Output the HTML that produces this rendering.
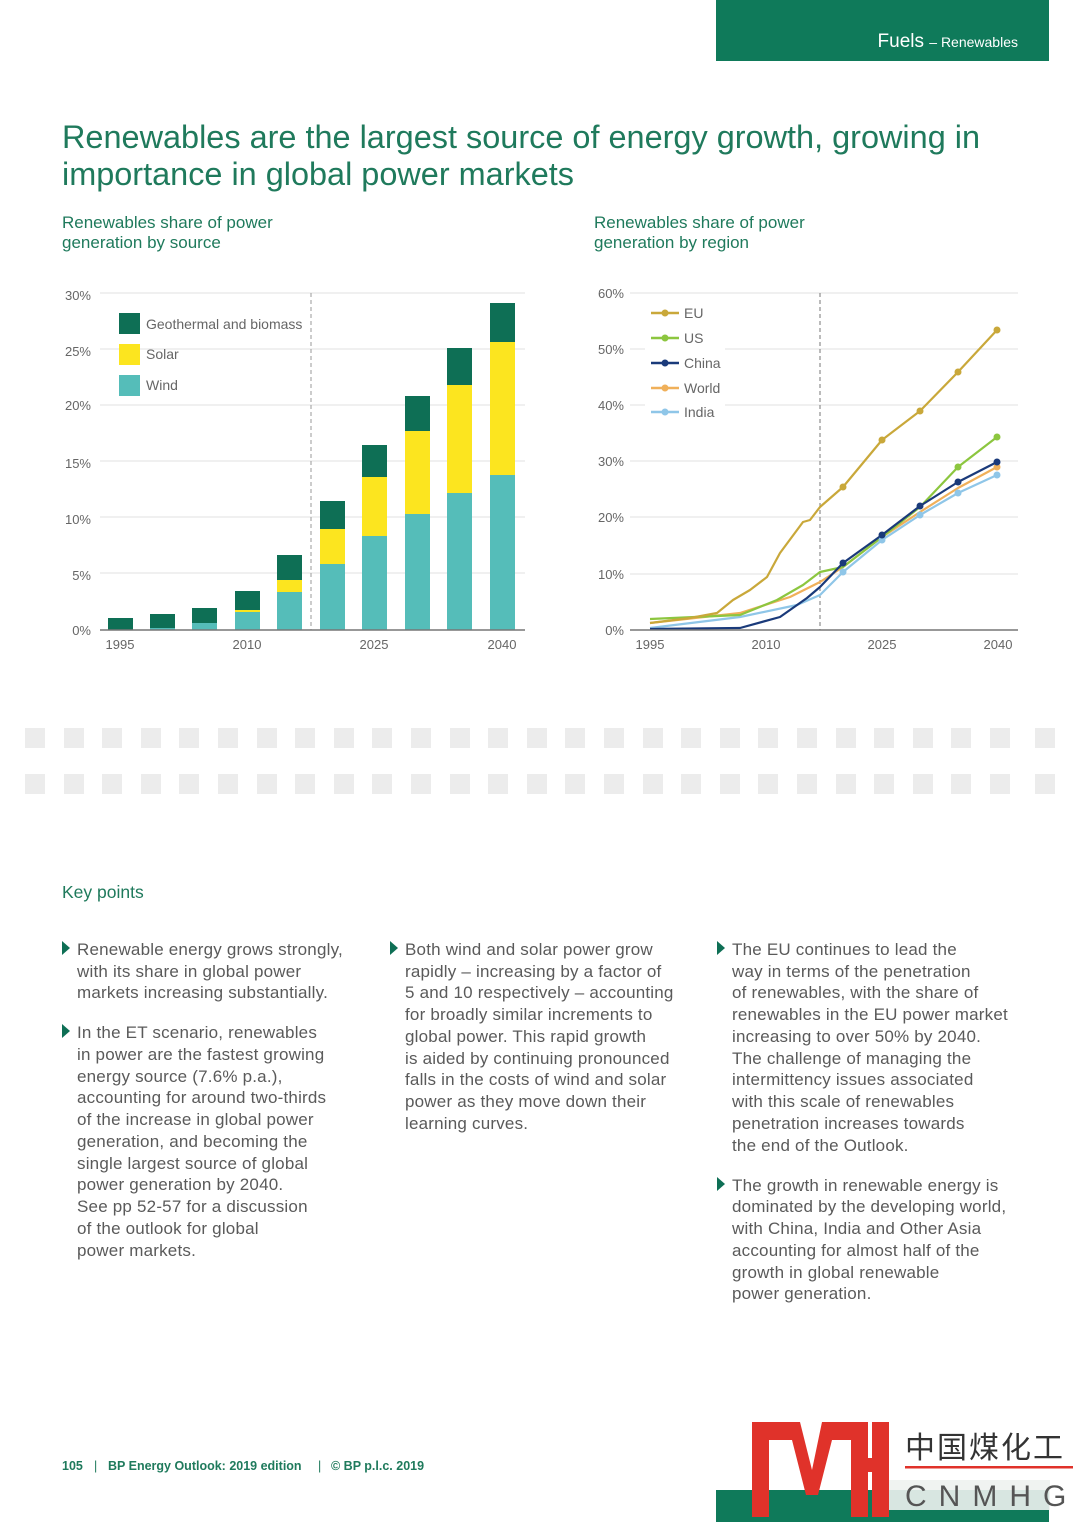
<!DOCTYPE html>
<html><head><meta charset="utf-8"><style>
html,body{margin:0;padding:0;background:#fff}
svg{display:block}
text{font-family:"Liberation Sans","Noto Sans CJK SC",sans-serif}
.b{font-size:17px;fill:#5a5a5a;letter-spacing:0.2px}
.t{font-size:13px;fill:#666}
</style></head><body>
<svg width="1080" height="1522" viewBox="0 0 1080 1522" xmlns="http://www.w3.org/2000/svg">
<rect x="716" y="0" width="333" height="61" fill="#0f7a5a"/>
<text x="1018" y="47" text-anchor="end" fill="#fff" font-size="19">Fuels <tspan font-size="14">– Renewables</tspan></text>

<text x="62" y="148" fill="#1f7a5c" font-size="32" textLength="918" lengthAdjust="spacingAndGlyphs">Renewables are the largest source of energy growth, growing in</text>
<text x="62" y="185" fill="#1f7a5c" font-size="32" textLength="512" lengthAdjust="spacingAndGlyphs">importance in global power markets</text>
<g fill="#1f7a5c" font-size="17">
<text x="62" y="228">Renewables share of power</text>
<text x="62" y="248">generation by source</text>
<text x="594" y="228">Renewables share of power</text>
<text x="594" y="248">generation by region</text>
</g>

<!-- left chart -->
<g stroke="#e2e2e2" stroke-width="1">
<line x1="100" y1="293" x2="525" y2="293"/><line x1="100" y1="349" x2="525" y2="349"/>
<line x1="100" y1="405" x2="525" y2="405"/><line x1="100" y1="461" x2="525" y2="461"/>
<line x1="100" y1="517" x2="525" y2="517"/><line x1="100" y1="573" x2="525" y2="573"/>
</g>
<line x1="311" y1="293" x2="311" y2="630" stroke="#999" stroke-dasharray="4,3"/>
<g class="t">
<text x="91" y="300" text-anchor="end">30%</text><text x="91" y="356" text-anchor="end">25%</text>
<text x="91" y="410" text-anchor="end">20%</text><text x="91" y="468" text-anchor="end">15%</text>
<text x="91" y="524" text-anchor="end">10%</text><text x="91" y="580" text-anchor="end">5%</text>
<text x="91" y="635" text-anchor="end">0%</text>
<text x="120" y="649" text-anchor="middle">1995</text><text x="247" y="649" text-anchor="middle">2010</text>
<text x="374" y="649" text-anchor="middle">2025</text><text x="502" y="649" text-anchor="middle">2040</text>
</g>
<g>
<rect x="108" y="618" width="25" height="12" fill="#0e6f55"/>
<rect x="150" y="614" width="25" height="16" fill="#0e6f55"/><rect x="150" y="628" width="25" height="2" fill="#55bdb9"/>
<rect x="192" y="608" width="25" height="22" fill="#0e6f55"/><rect x="192" y="623" width="25" height="7" fill="#55bdb9"/>
<rect x="235" y="591" width="25" height="39" fill="#0e6f55"/><rect x="235" y="610" width="25" height="2" fill="#fce51f"/><rect x="235" y="612" width="25" height="18" fill="#55bdb9"/>
<rect x="277" y="555" width="25" height="75" fill="#0e6f55"/><rect x="277" y="580" width="25" height="12" fill="#fce51f"/><rect x="277" y="592" width="25" height="38" fill="#55bdb9"/>
<rect x="320" y="501" width="25" height="129" fill="#0e6f55"/><rect x="320" y="529" width="25" height="35" fill="#fce51f"/><rect x="320" y="564" width="25" height="66" fill="#55bdb9"/>
<rect x="362" y="445" width="25" height="185" fill="#0e6f55"/><rect x="362" y="477" width="25" height="59" fill="#fce51f"/><rect x="362" y="536" width="25" height="94" fill="#55bdb9"/>
<rect x="405" y="396" width="25" height="234" fill="#0e6f55"/><rect x="405" y="431" width="25" height="83" fill="#fce51f"/><rect x="405" y="514" width="25" height="116" fill="#55bdb9"/>
<rect x="447" y="348" width="25" height="282" fill="#0e6f55"/><rect x="447" y="385" width="25" height="108" fill="#fce51f"/><rect x="447" y="493" width="25" height="137" fill="#55bdb9"/>
<rect x="490" y="303" width="25" height="327" fill="#0e6f55"/><rect x="490" y="342" width="25" height="133" fill="#fce51f"/><rect x="490" y="475" width="25" height="155" fill="#55bdb9"/>
</g>
<line x1="100" y1="630" x2="525" y2="630" stroke="#777" stroke-width="1.5"/>
<rect x="119" y="313" width="21" height="21" fill="#0e6f55"/>
<rect x="119" y="344" width="21" height="21" fill="#fce51f"/>
<rect x="119" y="375" width="21" height="21" fill="#55bdb9"/>
<g class="t"><text x="146" y="329" style="font-size:14px">Geothermal and biomass</text><text x="146" y="359" style="font-size:14px">Solar</text><text x="146" y="390" style="font-size:14px">Wind</text></g>

<!-- right chart -->
<g stroke="#e2e2e2" stroke-width="1">
<line x1="630" y1="293" x2="1018" y2="293"/><line x1="630" y1="349" x2="1018" y2="349"/>
<line x1="630" y1="405" x2="1018" y2="405"/><line x1="630" y1="461" x2="1018" y2="461"/>
<line x1="630" y1="517" x2="1018" y2="517"/><line x1="630" y1="574" x2="1018" y2="574"/>
</g>
<line x1="820" y1="293" x2="820" y2="630" stroke="#777" stroke-dasharray="4,3"/>
<g class="t">
<text x="624" y="298" text-anchor="end">60%</text><text x="624" y="354" text-anchor="end">50%</text>
<text x="624" y="410" text-anchor="end">40%</text><text x="624" y="466" text-anchor="end">30%</text>
<text x="624" y="522" text-anchor="end">20%</text><text x="624" y="579" text-anchor="end">10%</text>
<text x="624" y="635" text-anchor="end">0%</text>
<text x="650" y="649" text-anchor="middle">1995</text><text x="766" y="649" text-anchor="middle">2010</text>
<text x="882" y="649" text-anchor="middle">2025</text><text x="998" y="649" text-anchor="middle">2040</text>
</g>
<g fill="none" stroke-width="2.2" stroke-linejoin="round">
<polyline stroke="#8fc6e8" points="650,628 740,617 797,605 820,595 843,572 882,540 920,515 958,493 997,475"/>
<polyline stroke="#f0b05a" points="650,623 740,613 790,597 820,582 843,567 882,537 920,512 958,488 997,467"/>
<polyline stroke="#8cc63f" points="650,619 740,615 777,600 803,585 820,572 843,567 882,537 920,507 958,467 997,437"/>
<polyline stroke="#1a3a7a" points="650,629 740,628 780,617 807,598 820,587 843,563 882,535 920,506 958,482 997,462"/>
<polyline stroke="#c9a83a" points="650,623 690,618 717,613 733,600 750,590 767,577 780,553 803,522 810,520 820,507 843,487 882,440 920,411 958,372 997,330"/>
</g>
<g>
<circle cx="843" cy="572" r="3.5" fill="#8fc6e8"/><circle cx="882" cy="540" r="3.5" fill="#8fc6e8"/><circle cx="920" cy="515" r="3.5" fill="#8fc6e8"/><circle cx="958" cy="493" r="3.5" fill="#8fc6e8"/><circle cx="997" cy="475" r="3.5" fill="#8fc6e8"/>
<circle cx="997" cy="467" r="3.5" fill="#f0b05a"/>
<circle cx="958" cy="467" r="3.5" fill="#8cc63f"/><circle cx="997" cy="437" r="3.5" fill="#8cc63f"/>
<circle cx="843" cy="563" r="3.5" fill="#1a3a7a"/><circle cx="882" cy="535" r="3.5" fill="#1a3a7a"/><circle cx="920" cy="506" r="3.5" fill="#1a3a7a"/><circle cx="958" cy="482" r="3.5" fill="#1a3a7a"/><circle cx="997" cy="462" r="3.5" fill="#1a3a7a"/>
<circle cx="843" cy="487" r="3.5" fill="#c9a83a"/><circle cx="882" cy="440" r="3.5" fill="#c9a83a"/><circle cx="920" cy="411" r="3.5" fill="#c9a83a"/><circle cx="958" cy="372" r="3.5" fill="#c9a83a"/><circle cx="997" cy="330" r="3.5" fill="#c9a83a"/>
</g>
<line x1="630" y1="630" x2="1018" y2="630" stroke="#777" stroke-width="1.5"/>
<rect x="645" y="300" width="80" height="125" fill="#fff"/>
<g stroke-width="2.5">
<line x1="651" y1="313" x2="679" y2="313" stroke="#c9a83a"/><circle cx="665" cy="313" r="3.5" fill="#c9a83a"/>
<line x1="651" y1="338" x2="679" y2="338" stroke="#8cc63f"/><circle cx="665" cy="338" r="3.5" fill="#8cc63f"/>
<line x1="651" y1="363" x2="679" y2="363" stroke="#1a3a7a"/><circle cx="665" cy="363" r="3.5" fill="#1a3a7a"/>
<line x1="651" y1="388" x2="679" y2="388" stroke="#f0b05a"/><circle cx="665" cy="388" r="3.5" fill="#f0b05a"/>
<line x1="651" y1="412" x2="679" y2="412" stroke="#8fc6e8"/><circle cx="665" cy="412" r="3.5" fill="#8fc6e8"/>
</g>
<g class="t"><text x="684" y="318" style="font-size:14px">EU</text><text x="684" y="343" style="font-size:14px">US</text><text x="684" y="368" style="font-size:14px">China</text><text x="684" y="393" style="font-size:14px">World</text><text x="684" y="417" style="font-size:14px">India</text></g>

<!-- squares -->
<g fill="#ececec">
<rect x="25" y="728" width="20" height="20"/><rect x="64" y="728" width="20" height="20"/><rect x="102" y="728" width="20" height="20"/><rect x="141" y="728" width="20" height="20"/><rect x="179" y="728" width="20" height="20"/><rect x="218" y="728" width="20" height="20"/><rect x="257" y="728" width="20" height="20"/><rect x="295" y="728" width="20" height="20"/><rect x="334" y="728" width="20" height="20"/><rect x="372" y="728" width="20" height="20"/><rect x="411" y="728" width="20" height="20"/><rect x="450" y="728" width="20" height="20"/><rect x="488" y="728" width="20" height="20"/><rect x="527" y="728" width="20" height="20"/><rect x="565" y="728" width="20" height="20"/><rect x="604" y="728" width="20" height="20"/><rect x="643" y="728" width="20" height="20"/><rect x="681" y="728" width="20" height="20"/><rect x="720" y="728" width="20" height="20"/><rect x="758" y="728" width="20" height="20"/><rect x="797" y="728" width="20" height="20"/><rect x="836" y="728" width="20" height="20"/><rect x="874" y="728" width="20" height="20"/><rect x="913" y="728" width="20" height="20"/><rect x="951" y="728" width="20" height="20"/><rect x="990" y="728" width="20" height="20"/><rect x="1035" y="728" width="20" height="20"/>
<rect x="25" y="774" width="20" height="20"/><rect x="64" y="774" width="20" height="20"/><rect x="102" y="774" width="20" height="20"/><rect x="141" y="774" width="20" height="20"/><rect x="179" y="774" width="20" height="20"/><rect x="218" y="774" width="20" height="20"/><rect x="257" y="774" width="20" height="20"/><rect x="295" y="774" width="20" height="20"/><rect x="334" y="774" width="20" height="20"/><rect x="372" y="774" width="20" height="20"/><rect x="411" y="774" width="20" height="20"/><rect x="450" y="774" width="20" height="20"/><rect x="488" y="774" width="20" height="20"/><rect x="527" y="774" width="20" height="20"/><rect x="565" y="774" width="20" height="20"/><rect x="604" y="774" width="20" height="20"/><rect x="643" y="774" width="20" height="20"/><rect x="681" y="774" width="20" height="20"/><rect x="720" y="774" width="20" height="20"/><rect x="758" y="774" width="20" height="20"/><rect x="797" y="774" width="20" height="20"/><rect x="836" y="774" width="20" height="20"/><rect x="874" y="774" width="20" height="20"/><rect x="913" y="774" width="20" height="20"/><rect x="951" y="774" width="20" height="20"/><rect x="990" y="774" width="20" height="20"/><rect x="1035" y="774" width="20" height="20"/>
</g>

<text x="62" y="898" fill="#1f7a5c" font-size="17.5">Key points</text>
<g fill="#0e6f55">
<polygon points="62,941 70,948 62,955"/><polygon points="62,1024 70,1031 62,1038"/>
<polygon points="390,941 398,948 390,955"/>
<polygon points="717,941 725,948 717,955"/><polygon points="717,1177 725,1184 717,1191"/>
</g>
<g class="b">
<text x="77" y="955">Renewable energy grows strongly,</text>
<text x="77" y="977">with its share in global power</text>
<text x="77" y="998">markets increasing substantially.</text>
<text x="77" y="1038">In the ET scenario, renewables</text>
<text x="77" y="1060">in power are the fastest growing</text>
<text x="77" y="1082">energy source (7.6% p.a.),</text>
<text x="77" y="1103">accounting for around two-thirds</text>
<text x="77" y="1125">of the increase in global power</text>
<text x="77" y="1147">generation, and becoming the</text>
<text x="77" y="1169">single largest source of global</text>
<text x="77" y="1190">power generation by 2040.</text>
<text x="77" y="1212">See pp 52-57 for a discussion</text>
<text x="77" y="1234">of the outlook for global</text>
<text x="77" y="1256">power markets.</text>

<text x="405" y="955">Both wind and solar power grow</text>
<text x="405" y="977">rapidly – increasing by a factor of</text>
<text x="405" y="998">5 and 10 respectively – accounting</text>
<text x="405" y="1020">for broadly similar increments to</text>
<text x="405" y="1042">global power. This rapid growth</text>
<text x="405" y="1064">is aided by continuing pronounced</text>
<text x="405" y="1085">falls in the costs of wind and solar</text>
<text x="405" y="1107">power as they move down their</text>
<text x="405" y="1129">learning curves.</text>

<text x="732" y="955">The EU continues to lead the</text>
<text x="732" y="977">way in terms of the penetration</text>
<text x="732" y="998">of renewables, with the share of</text>
<text x="732" y="1020">renewables in the EU power market</text>
<text x="732" y="1042">increasing to over 50% by 2040.</text>
<text x="732" y="1064">The challenge of managing the</text>
<text x="732" y="1085">intermittency issues associated</text>
<text x="732" y="1107">with this scale of renewables</text>
<text x="732" y="1129">penetration increases towards</text>
<text x="732" y="1151">the end of the Outlook.</text>
<text x="732" y="1191">The growth in renewable energy is</text>
<text x="732" y="1212">dominated by the developing world,</text>
<text x="732" y="1234">with China, India and Other Asia</text>
<text x="732" y="1256">accounting for almost half of the</text>
<text x="732" y="1278">growth in global renewable</text>
<text x="732" y="1299">power generation.</text>
</g>

<g fill="#1f7a5c" font-size="12.5" font-weight="bold">
<text x="62" y="1470">105</text>
<text x="94" y="1470" font-weight="normal">|</text>
<text x="108" y="1470">BP Energy Outlook: 2019 edition</text>
<text x="318" y="1470" font-weight="normal">|</text>
<text x="331" y="1470">© BP p.l.c. 2019</text>
</g>

<rect x="716" y="1490" width="333" height="32" fill="#0f7a5a"/>
<rect x="880" y="1480" width="170" height="30" fill="#eef2f0" opacity="0.9"/>
<g fill="#e0322a">
<rect x="752" y="1422" width="17" height="95"/>
<polygon points="752,1422 800,1422 812,1470 822,1422 868,1422 868,1440 832,1440 818,1495 806,1495 792,1440 769,1440"/>
<rect x="851" y="1422" width="17" height="95"/>
<rect x="868" y="1458" width="4" height="14"/>
<rect x="872" y="1422" width="17" height="95"/>
<rect x="851" y="1460" width="38" height="12"/>
</g>
<text x="905" y="1458" fill="#333" font-size="30" style="letter-spacing:2px">中国煤化工</text>
<rect x="905" y="1466" width="168" height="2.5" fill="#e0322a"/>
<text x="905" y="1506" fill="#555" font-size="30" style="letter-spacing:12px">CNMHG</text>
</svg>
</body></html>
